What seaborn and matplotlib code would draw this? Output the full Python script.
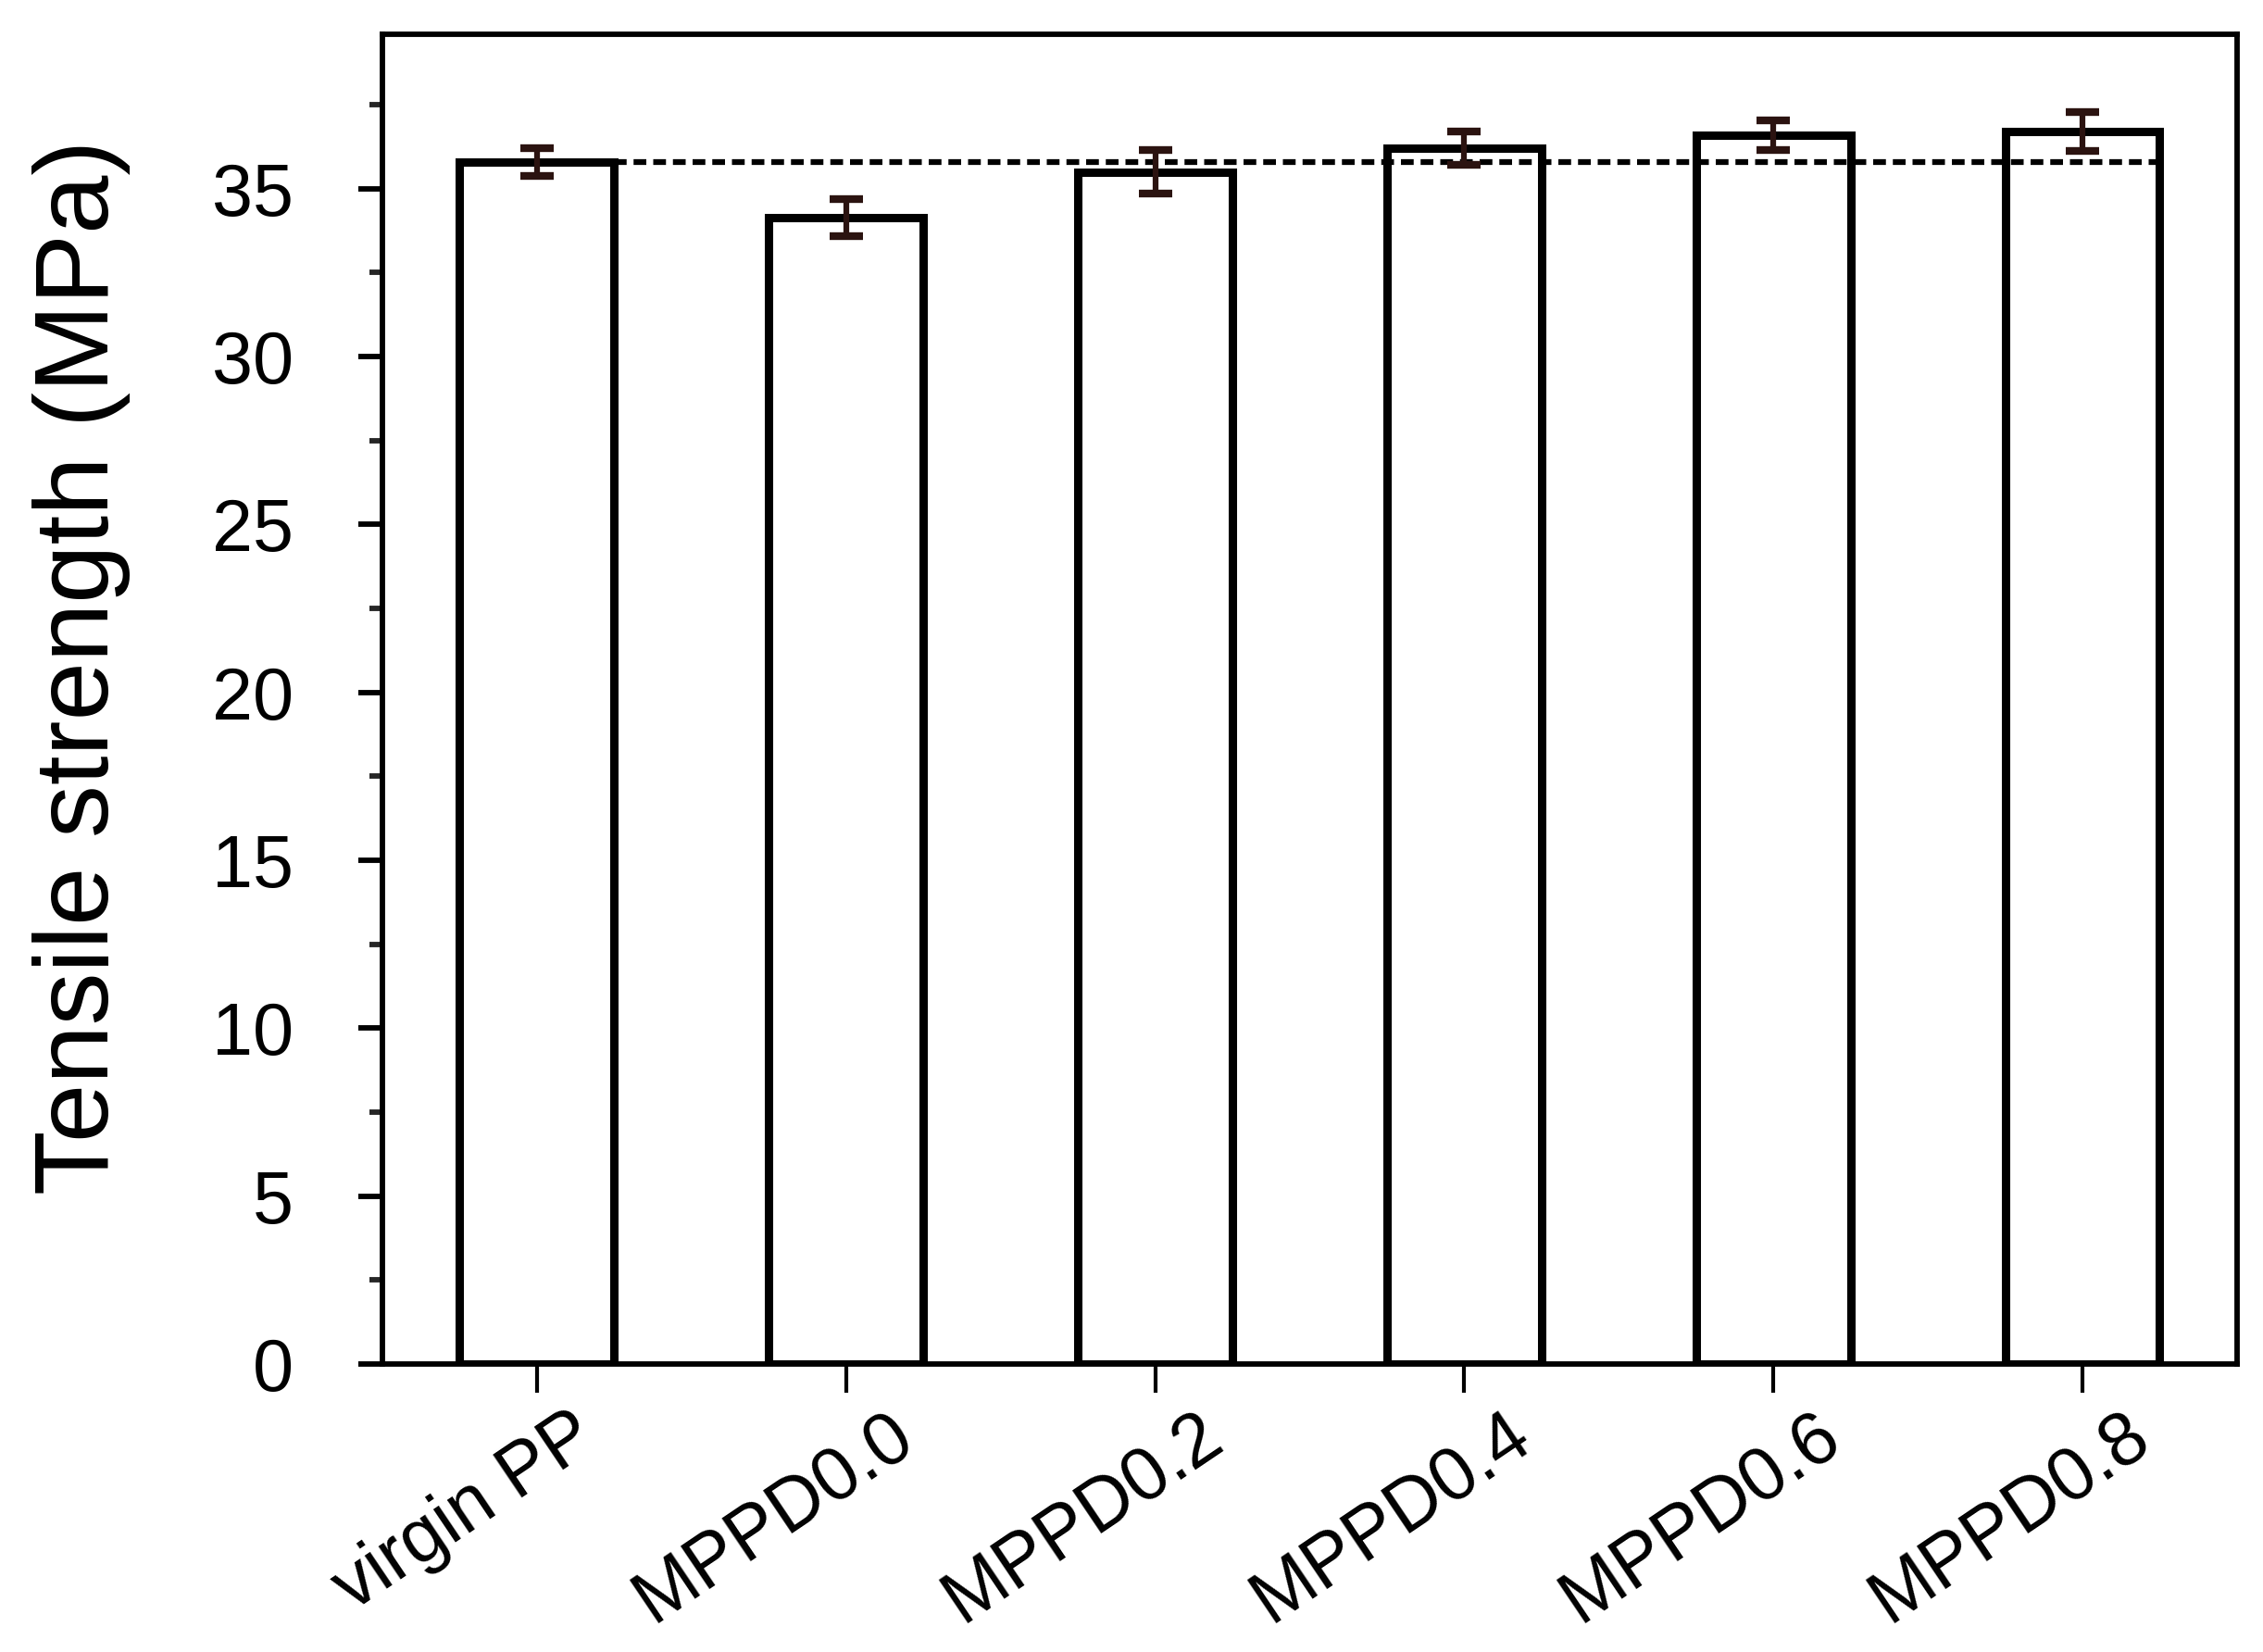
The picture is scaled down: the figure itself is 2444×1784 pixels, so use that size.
import numpy as np
import pandas as pd
import matplotlib
matplotlib.use("Agg")
import matplotlib.pyplot as plt
import matplotlib.transforms as mtransforms
from matplotlib.ticker import MultipleLocator
import seaborn as sns

# ─── DATA ─────────────────────────────────────────────────────
samples = ["virgin PP", "MPPD0.0", "MPPD0.2", "MPPD0.4", "MPPD0.6", "MPPD0.8"]
strength = [35.8, 34.15, 35.5, 36.2, 36.6, 36.7]
strength_err = [0.42, 0.55, 0.65, 0.50, 0.44, 0.57]
baseline = strength[0]

df = pd.DataFrame({"sample": samples, "strength": strength, "err": strength_err})

sns.set_theme(style="ticks")
plt.rcParams["font.family"] = ["Liberation Sans", "DejaVu Sans"]

fig = plt.figure(figsize=(24.44, 17.84), dpi=100)
ax = fig.add_axes([0.169, 0.1743, 0.8195, 0.805])

sns.barplot(data=df, x="sample", y="strength", color="white", edgecolor="black",
            linewidth=6.5, width=0.5, errorbar=None, ax=ax, zorder=2)
for p in ax.patches:
    p.set_facecolor("white")

ax.errorbar(np.arange(len(samples)), df["strength"], yerr=df["err"], fmt="none",
            ecolor="#2b1310", elinewidth=4.5, capsize=13, capthick=6, zorder=4)

# dashed reference line at the virgin PP level
ax.plot([0.25, len(samples) - 1 + 0.25], [baseline, baseline], color="black",
        linewidth=4.5, linestyle=(0, (2.2, 1.2)), zorder=3)

ax.set_xlim(-0.5, len(samples) - 0.5)
ax.set_ylim(0, 39.6)
ax.yaxis.set_major_locator(MultipleLocator(5))
ax.yaxis.set_minor_locator(MultipleLocator(2.5))

for sp in ax.spines.values():
    sp.set_linewidth(4.2)
    sp.set_color("black")

ax.tick_params(axis="y", which="major", direction="out", length=19, width=4.2,
               labelsize=57, pad=50, colors="black")
ax.tick_params(axis="y", which="minor", direction="out", length=10, width=4.2)
ax.tick_params(axis="x", which="major", direction="out", length=22, width=3,
               labelsize=58, pad=6, colors="black")

ax.set_xlabel("")
ax.set_ylabel("Tensile strength (MPa)", fontsize=82, color="black")
ax.yaxis.set_label_coords(-0.136, 0.524)

offset = mtransforms.ScaledTranslation(-0.78, 0, fig.dpi_scale_trans)
for lbl in ax.get_xticklabels():
    lbl.set_rotation(34)
    lbl.set_ha("center")
    lbl.set_transform(lbl.get_transform() + offset)

fig.savefig("out.png", dpi=100, facecolor="white")
